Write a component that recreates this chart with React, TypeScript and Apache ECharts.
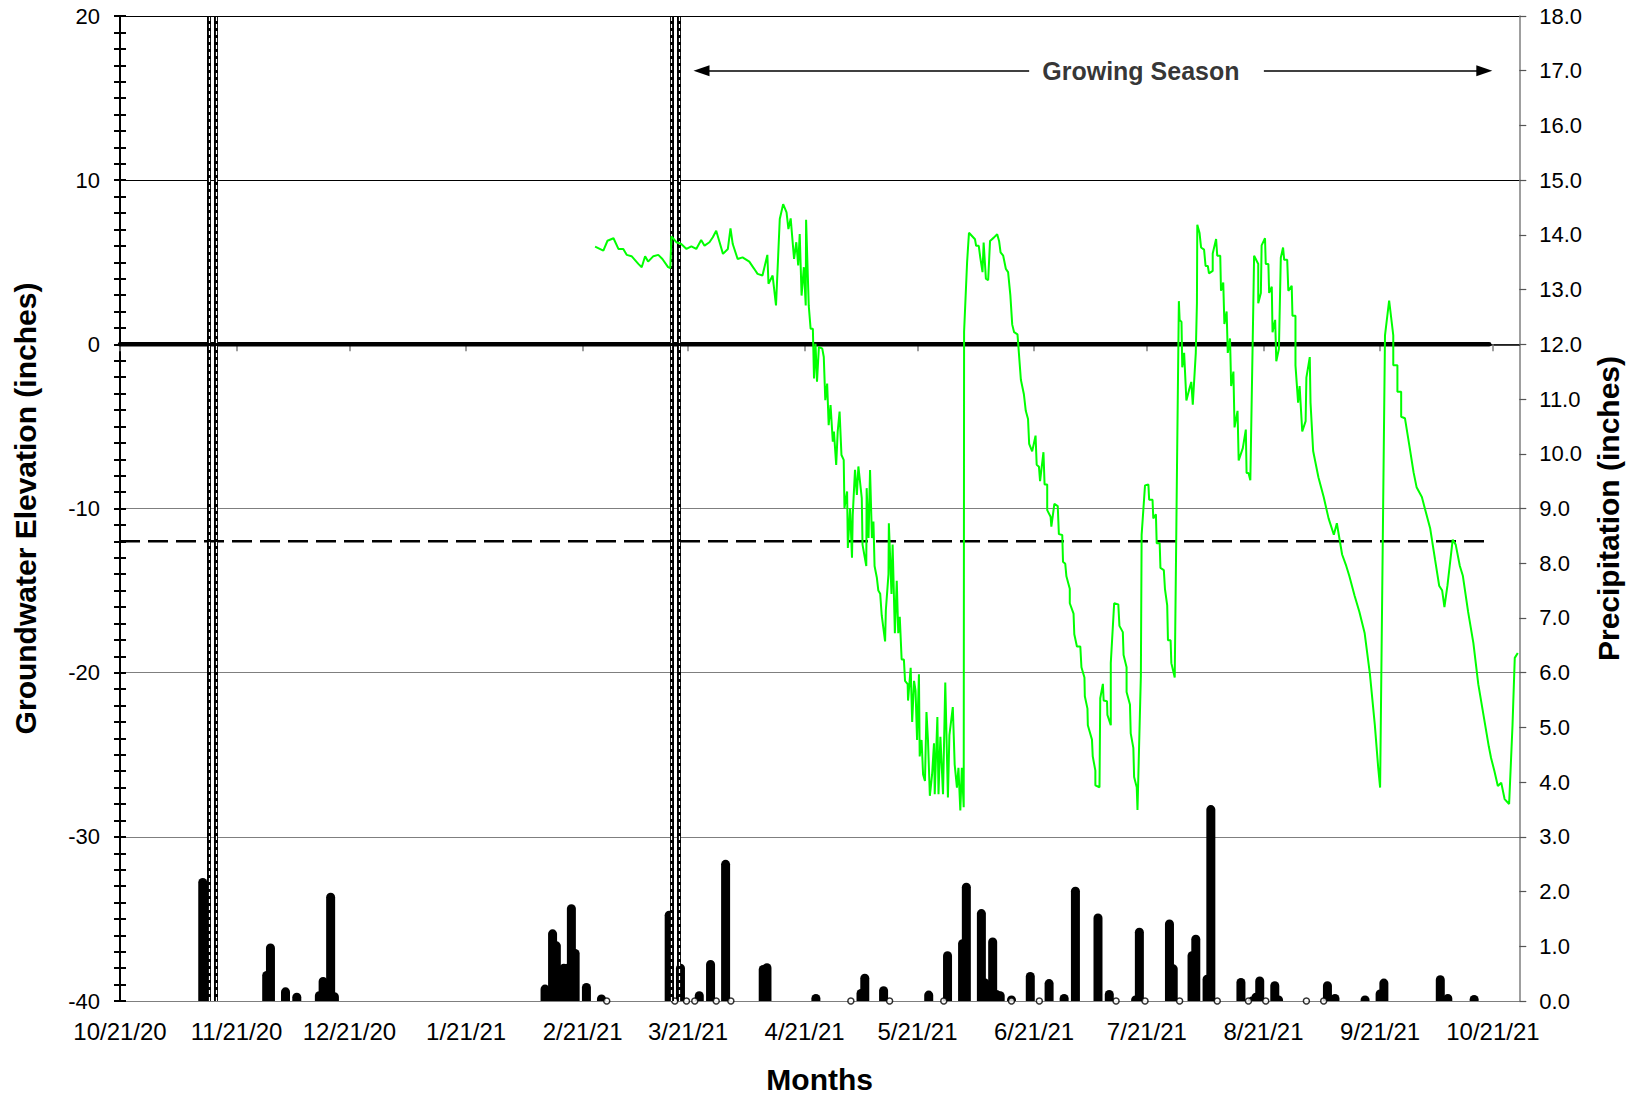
import React, { useEffect, useRef } from "react";
import * as echarts from "echarts";

const FONT = "'Liberation Sans', Arial, Helvetica, sans-serif";

// x axis: day offsets from 10/21/20 (day 0) to 10/28/21 (day 372)
const START_YEAR = 2020;
const START_MONTH = 9; // October (0-based)
const START_DAY = 21;
const TOTAL_DAYS = 372;
const TICK_DAY_OF_MONTH = "21";

const dateCategories: string[] = Array.from({ length: TOTAL_DAYS + 1 }, (_, i) => {
  const dt = new Date(START_YEAR, START_MONTH, START_DAY + i);
  return `${dt.getMonth() + 1}/${dt.getDate()}/${String(dt.getFullYear()).slice(2)}`;
});

// Groundwater elevation (inches), [day offset, value]
const gwDays: number[] = [
  126.3, 128.5, 129.6, 131.2, 132.5, 133.8, 134.7, 136, 137.8, 138.7, 139.6, 140.4, 141.8, 143.1, 144.2, 145.7, 146.3,
  146.6, 147.9, 149.2, 150.6, 151.9, 153.2, 154.5, 155.4, 156.7, 157.6, 158.5, 159.4, 160.3, 161.6, 162.3, 162.9,
  164.2, 165.5, 167.3, 168.6, 169.5, 170.8, 172.1, 172.4, 173.5, 174.4, 175.4, 176.3, 177.2, 177.7, 178.3, 179.2,
  179.8, 180.3, 180.7, 181.2, 181.8, 182.3, 182.4, 183.1, 183.6, 184.2, 184.5, 184.9, 185.3, 185.8, 186.7, 187.1,
  187.5, 188, 188.4, 188.9, 189.5, 189.8, 190.4, 190.8, 191.3, 191.8, 192.4, 192.6, 193.3, 193.5, 194.1, 194.6,
  194.8, 195.4, 195.9, 196.3, 197.2, 197.4, 198.4, 198.5, 199, 199.4, 199.9, 200.3, 200.6, 201.2, 201.6, 202.1,
  202.5, 203.4, 203.6, 204.3, 204.4, 205.1, 205.4, 206, 206.5, 206.9, 207.3, 207.8, 208.4, 208.7, 209.4, 209.5,
  210.2, 210.6, 211.1, 211.5, 211.9, 212.4, 212.6, 213.1, 213.5, 214, 214.4, 214.8, 215.3, 215.9, 216.4, 216.6,
  217.3, 217.6, 218.1, 218.8, 219.4, 220.1, 220.5, 221.4, 221.9, 222.5, 222.9, 223.4, 223.8, 224.3, 224.4, 225.2,
  225.7, 226.5, 227.3, 227.6, 228.3, 228.7, 229.3, 229.6, 230.2, 230.8, 231.3, 232.3, 233.2, 233.7, 234.1, 234.8,
  235.5, 236.1, 236.7, 237.2, 237.7, 238.6, 239.5, 240.3, 240.8, 241.4, 241.7, 242.5, 243.4, 243.7, 244.3, 244.6,
  245.5, 245.8, 246.5, 246.5, 247.4, 247.6, 248.4, 249.3, 249.6, 250.5, 250.7, 251.3, 251.6, 252.5, 252.5, 253.5,
  253.7, 254.4, 255.3, 255.6, 256.4, 256.5, 257.2, 257.3, 258.4, 258.6, 259.3, 259.3, 260.4, 260.6, 261.3, 261.5,
  262.4, 262.5, 263.4, 263.4, 264.3, 265.4, 265.7, 266.6, 266.8, 267.6, 267.6, 268.5, 268.7, 269.4, 269.6, 270.3,
  270.5, 271.4, 271.6, 272.5, 273.4, 273.6, 274.5, 274.7, 275.4, 275.6, 276.4, 276.6, 277.5, 277.8, 278.4, 278.6,
  279.3, 279.5, 280.4, 281, 281.5, 281.7, 282.2, 282.4, 282.9, 283.5, 284.2, 284.8, 285.2, 286, 286.3, 286.4, 287,
  287.4, 288.2, 288.6, 289.2, 289.5, 290.5, 290.5, 291.4, 291.7, 292.5, 292.7, 293.3, 293.6, 294.2, 294.5, 295.1,
  295.4, 296, 296.3, 297.1, 297.4, 298.5, 299.3, 299.5, 300, 300.5, 301.3, 301.5, 302.6, 302.6, 303.3, 303.5, 304.4,
  304.6, 305.3, 305.5, 306.2, 306.4, 307.1, 307.4, 308.1, 308.6, 309.2, 309.5, 310.3, 310.6, 311.5, 311.7, 312.5,
  312.5, 313.2, 313.6, 314.3, 315.2, 315.4, 316.3, 316.5, 317.2, 318.6, 320, 321.3, 322.7, 323.5, 324.9, 326, 326.8,
  328.2, 329.5, 330.9, 332.3, 333.6, 334.5, 335, 336.3, 337.4, 338.5, 338.5, 339.6, 339.6, 340.6, 340.6, 341.6,
  342.8, 343.9, 344.7, 346.1, 346.9, 348.3, 349.6, 350.7, 351.5, 352.1, 352.9, 354.3, 355.1, 356.2, 357, 358.4,
  359.8, 361.1, 362.5, 363.9, 364.5, 365.4, 366.3, 367.2, 368.1, 369.3, 370.2, 370.8, 371.6,
];
const gwValues: number[] = [
  5.95, 5.71, 6.31, 6.46, 5.81, 5.8, 5.45, 5.37, 4.9, 4.7, 5.37, 5.04, 5.37, 5.45, 5.2, 4.7, 4.64,
  6.58, 6.22, 6.11, 5.81, 5.97, 5.81, 6.36, 6.01, 6.22, 6.52, 6.92, 6.22, 5.51, 5.81, 7.07, 6.11,
  5.2, 5.3, 5.04, 4.6, 4.29, 4.19, 5.45, 3.69, 4.19, 2.37, 7.63, 8.54, 8.04, 7.02, 7.67, 5.2,
  6.22, 4.8, 6.72, 2.97, 4.7, 2.37, 7.59, 2.37, 0.95, 0.95, -2.08, 0.04, -2.28, -0.16, -0.26, -0.77,
  -3.4, -2.39, -4.92, -3.7, -5.93, -5.32, -7.35, -5.32, -4.1, -6.74, -7.04, -9.98, -8.96, -12.4, -9.98, -13.0,
  -10.4, -7.65, -9.17, -7.44, -9.37, -12.2, -13.5, -8.76, -11.8, -7.65, -11.8, -10.8, -13.5, -14.2, -15.0, -15.2,
  -16.5, -18.1, -16.2, -14.0, -10.9, -15.2, -12.2, -17.6, -14.4, -17.6, -16.6, -19.2, -19.2, -20.5, -20.7, -21.7,
  -19.7, -23.0, -20.5, -21.1, -24.1, -20.1, -25.1, -24.1, -26.2, -26.6, -22.4, -24.1, -27.5, -26.2, -24.3, -27.4,
  -22.7, -27.4, -23.9, -27.4, -20.6, -27.6, -23.8, -22.1, -25.6, -27.0, -25.8, -28.4, -25.8, -28.2, 0.75, 5.0,
  6.8, 6.6, 6.4, 6.0, 6.0, 5.3, 4.4, 6.2, 4.0, 3.9, 6.3, 6.5, 6.7, 6.3, 5.6, 5.4,
  4.6, 4.4, 3.0, 1.2, 0.74, 0.61, -2.16, -3.04, -4.05, -4.55, -6.07, -6.52, -5.56, -7.33, -7.45, -8.33,
  -6.57, -8.54, -8.54, -10.1, -10.5, -11.1, -9.72, -9.85, -11.56, -11.61, -13.25, -13.37, -14.13, -14.89, -15.77, -16.4,
  -17.66, -18.41, -18.41, -19.67, -20.3, -21.44, -22.19, -23.2, -24.08, -25.09, -25.97, -26.86, -26.98, -21.56, -20.68, -21.69,
  -21.74, -22.57, -23.2, -19.42, -15.77, -15.84, -17.15, -17.53, -18.92, -19.67, -21.18, -21.94, -23.7, -24.58, -26.35, -26.98,
  -28.37, -20.18, -11.61, -8.59, -8.54, -9.47, -9.47, -10.6, -10.35, -12.11, -12.11, -13.62, -13.75, -14.89, -15.9, -18.03,
  -18.03, -19.42, -20.3, -7.58, 2.63, 1.49, 1.37, -1.4, -0.52, -3.42, -2.79, -2.29, -3.67, -0.52, 2.5, 7.29, 6.78,
  5.9, 5.77, 4.77, 4.77, 4.32, 4.47, 5.53, 6.41, 5.4, 5.4, 3.26, 3.76, 1.24, 2.0, -0.52, 0.36,
  -2.54, -1.66, -5.06, -4.05, -7.07, -6.32, -5.19, -7.83, -7.83, -8.28, 2.5, 5.4, 4.89, 2.5, 3.13, 6.03, 6.46,
  4.89, 4.89, 3.13, 3.51, 0.74, 1.49, -1.03, -0.27, 5.27, 5.9, 5.15, 5.15, 3.26, 3.56, 1.74, 1.74,
  -1.28, -3.55, -2.54, -5.31, -4.68, -2.03, -0.78, -3.55, -6.5, -8.1, -9.3, -10.6, -11.6, -10.9, -12.8, -13.5, -14.1,
  -15.3, -16.3, -17.6, -20.1, -23.2, -25.8, -27.0, 0.55, 2.67, 0.55, -1.27, -1.27, -2.89, -2.89, -4.41, -4.5,
  -6.2, -7.8, -8.7, -9.3, -10.0, -11.2, -13.1, -14.7, -15.0, -16.0, -14.7, -11.9, -12.2, -13.5, -14.1, -16.3,
  -18.2, -20.7, -22.6, -24.5, -25.2, -26.0, -26.9, -26.7, -27.7, -28.0, -23.2, -19.1, -18.8,
];

// Daily precipitation (inches)
const precipDays: number[] = [
  22, 39, 40, 44, 47, 53, 54, 56, 57, 113, 115, 116, 118, 119, 120, 121, 124, 128, 146, 149, 154, 157, 161, 171, 172,
  185, 197, 198, 203, 215, 220, 224, 225, 229, 230, 232, 233, 234, 237, 242, 247, 251, 254, 260, 263, 270, 271, 279,
  280, 285, 286, 289, 290, 298, 301, 302, 303, 307, 308, 321, 323, 331, 335, 336, 351, 353, 360,
];
const precipValues: number[] = [
  2.25, 0.55, 1.05, 0.25, 0.15, 0.18, 0.44, 1.98, 0.16, 0.3, 1.31, 1.09, 0.68, 0.68, 1.77, 0.95, 0.33, 0.12, 1.65, 0.68,
  0.18, 0.75, 2.58, 0.66, 0.69, 0.13, 0.22, 0.5, 0.27, 0.19, 0.91, 1.13, 2.16, 1.68, 0.41, 1.16, 0.2, 0.18, 0.1, 0.53,
  0.4, 0.13, 2.09, 1.6, 0.2, 0.1, 1.34, 1.49, 0.67, 0.91, 1.21, 0.48, 3.58, 0.42, 0.08, 0.15, 0.45, 0.36, 0.1, 0.36,
  0.13, 0.1, 0.21, 0.41, 0.47, 0.13, 0.11,
];

// Trace precipitation days (hollow markers at 0)
const traceDays: number[] = [
  129.4, 147.5, 150.6, 152.8, 158.5, 162.4, 194.3, 204.6, 219, 237, 244.4, 264.8, 272.5, 281.7, 291.7, 300, 304.6,
  315.4, 320,
];

// Reference lines
const refLineDays: number[] = [0, 364];
const ZERO_LEVEL = 0;
const TARGET_LEVEL = -12;
const eventLineDays: number[] = [23.6, 25.5, 146.6, 148.6];

// Growing season annotation (right axis units)
const growLeftArrow: number[] = [154.6, 241.7];
const growRightArrow: number[] = [304.1, 362.7];
const growLabelDay = 271.4;
const growLevel = 17;

const isTickDay = (_i: number, value: string) => value.split("/")[1] === TICK_DAY_OF_MONTH;

export default function App() {
  const ref = useRef<HTMLDivElement>(null);

  useEffect(() => {
    if (!ref.current) return;
    const chart = echarts.init(ref.current, undefined, { renderer: "svg" });

    const leftAxisCommon = {
      type: "value" as const,
      min: -40,
      max: 20,
      interval: 10,
    };

    chart.setOption({
      animation: false,
      backgroundColor: "#fff",
      textStyle: { fontFamily: FONT },
      grid: { left: 120, right: 103, top: 16, bottom: 95, containLabel: false },
      xAxis: [
        {
          type: "category",
          data: dateCategories,
          boundaryGap: false,
          position: "bottom",
          axisLine: { lineStyle: { color: "#000", width: 1.5 } },
          axisTick: { interval: isTickDay, length: 7, lineStyle: { color: "#7f7f7f", width: 1.5 } },
          axisLabel: { interval: isTickDay, fontSize: 24, color: "#000", margin: 18, fontFamily: FONT },
          splitLine: { show: false },
          name: "Months",
          nameLocation: "middle",
          nameGap: 63,
          nameTextStyle: { fontSize: 30, fontWeight: "bold", color: "#000", fontFamily: FONT },
        },
        { type: "value", min: 0, max: TOTAL_DAYS, show: false },
      ],
      yAxis: [
        {
          ...leftAxisCommon,
          position: "left",
          axisLine: { show: true, lineStyle: { color: "#000", width: 2 } },
          axisTick: { show: true, length: 6, lineStyle: { color: "#000", width: 2 } },
          minorTick: { show: true, splitNumber: 10, length: 6, lineStyle: { color: "#000", width: 2 } },
          axisLabel: { fontSize: 22, color: "#000", margin: 20, fontFamily: FONT },
          splitLine: {
            show: true,
            lineStyle: { color: ["#7f7f7f", "#7f7f7f", "#7f7f7f", "#7f7f7f", "#7f7f7f", "#000", "#000"], width: 1 },
          },
          name: "Groundwater Elevation (inches)",
          nameLocation: "middle",
          nameRotate: 90,
          nameGap: 80,
          nameTextStyle: { fontSize: 30, fontWeight: "bold", color: "#000", fontFamily: FONT },
        },
        {
          type: "value",
          min: 0,
          max: 18,
          interval: 1,
          position: "right",
          axisLine: { show: true, lineStyle: { color: "#7f7f7f", width: 1.5 } },
          axisTick: { show: true, length: 7, lineStyle: { color: "#555", width: 1.2 } },
          axisLabel: { fontSize: 22, color: "#000", margin: 20, fontFamily: FONT, formatter: (v: number) => v.toFixed(1) },
          splitLine: { show: false },
          name: "Precipitation (inches)",
          nameLocation: "middle",
          nameRotate: 90,
          nameGap: 59,
          nameTextStyle: { fontSize: 30, fontWeight: "bold", color: "#000", fontFamily: FONT },
        },
        {
          ...leftAxisCommon,
          position: "left",
          axisLine: { show: false },
          axisTick: { show: true, inside: true, length: 6, lineStyle: { color: "#000", width: 2 } },
          minorTick: { show: true, splitNumber: 10, length: 6, lineStyle: { color: "#000", width: 2 } },
          axisLabel: { show: false },
          splitLine: { show: false },
        },
      ],
      series: [
        {
          name: "Precipitation",
          type: "bar",
          xAxisIndex: 1,
          yAxisIndex: 1,
          barWidth: 9,
          data: precipDays.map((d, i) => [d, precipValues[i]]),
          itemStyle: { color: "#000", borderRadius: [4.5, 4.5, 0, 0] },
          z: 2,
        },
        {
          name: "Trace",
          type: "scatter",
          xAxisIndex: 1,
          yAxisIndex: 1,
          symbol: "circle",
          symbolSize: 6,
          data: traceDays.map((d) => [d, 0]),
          itemStyle: { color: "#fff", borderColor: "#000", borderWidth: 1.5 },
          z: 3,
        },
        {
          name: "Zero",
          type: "line",
          xAxisIndex: 1,
          yAxisIndex: 0,
          showSymbol: false,
          data: refLineDays.map((d) => [d, ZERO_LEVEL]),
          lineStyle: { color: "#000", width: 4.5, cap: "round" },
          z: 4,
          silent: true,
        },
        {
          name: "Target",
          type: "line",
          xAxisIndex: 1,
          yAxisIndex: 0,
          showSymbol: false,
          data: refLineDays.map((d) => [d, TARGET_LEVEL]),
          lineStyle: { color: "#000", width: 2.5, type: [20, 8] },
          z: 4,
          silent: true,
        },
        {
          name: "EventsBlack",
          type: "line",
          xAxisIndex: 1,
          yAxisIndex: 0,
          data: [],
          markLine: {
            silent: true,
            symbol: ["none", "none"],
            label: { show: false },
            lineStyle: { color: "#000", width: 4, type: "solid" },
            data: eventLineDays.map((d) => ({ xAxis: d })),
          },
          z: 5,
        },
        {
          name: "EventsWhite",
          type: "line",
          xAxisIndex: 1,
          yAxisIndex: 0,
          data: [],
          markLine: {
            silent: true,
            symbol: ["none", "none"],
            label: { show: false },
            lineStyle: { color: "#fff", width: 1.2, type: [4, 3] },
            data: eventLineDays.map((d) => ({ xAxis: d })),
          },
          z: 6,
        },
        {
          name: "Groundwater",
          type: "line",
          xAxisIndex: 1,
          yAxisIndex: 0,
          showSymbol: false,
          data: gwDays.map((d, i) => [d, gwValues[i]]),
          lineStyle: { color: "#00ff00", width: 2 },
          z: 7,
        },
        {
          name: "GrowingArrows",
          type: "line",
          xAxisIndex: 1,
          yAxisIndex: 1,
          data: [],
          markLine: {
            silent: true,
            label: { show: false },
            lineStyle: { color: "#000", width: 1.5, type: "solid" },
            symbolSize: [11, 16],
            data: [
              [
                { coord: [growLeftArrow[0], growLevel], symbol: "triangle" },
                { coord: [growLeftArrow[1], growLevel], symbol: "none" },
              ],
              [
                { coord: [growRightArrow[0], growLevel], symbol: "none" },
                { coord: [growRightArrow[1], growLevel], symbol: "triangle" },
              ],
            ],
          },
          z: 8,
        },
        {
          name: "GrowingLabel",
          type: "scatter",
          xAxisIndex: 1,
          yAxisIndex: 1,
          symbolSize: 1,
          itemStyle: { color: "transparent" },
          data: [[growLabelDay, growLevel]],
          label: {
            show: true,
            position: "inside",
            formatter: "Growing Season",
            fontSize: 25,
            fontWeight: "bold",
            color: "#000",
            fontFamily: FONT,
          },
          silent: true,
          z: 8,
        },
      ],
    });

    return () => chart.dispose();
  }, []);

  return <div ref={ref} style={{ position: "absolute", left: 0, top: 0, width: 1631, height: 1099 }} />;
}
